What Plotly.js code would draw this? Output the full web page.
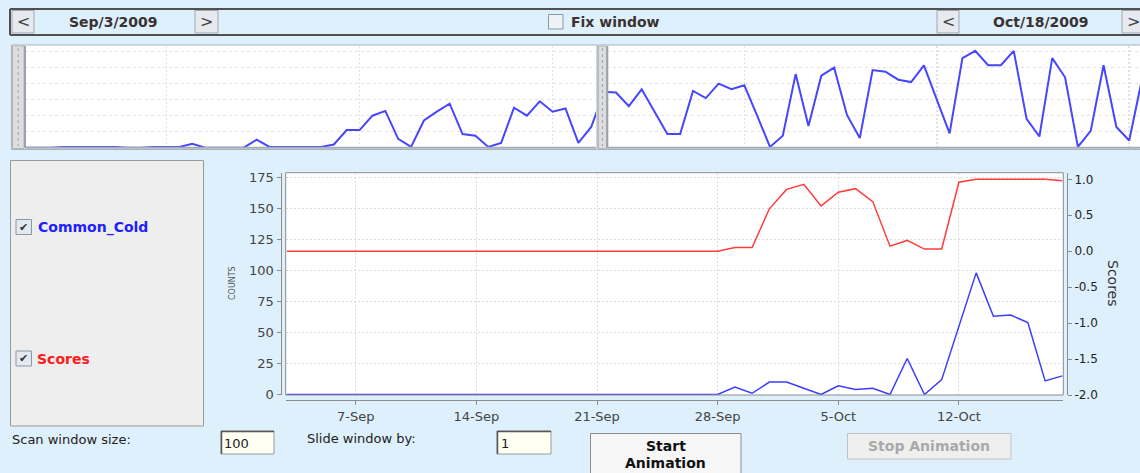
<!DOCTYPE html>
<html><head><meta charset="utf-8">
<script src="https://cdn.plot.ly/plotly-3.0.1.min.js"></script>
<style>html,body{margin:0;padding:0;background:#def0fc;} #chart{width:1140px;height:473px;}</style>
</head><body><div id="chart"></div>
<script>
// ---------- data ----------
const dates = [
 '2009-09-03','2009-09-04','2009-09-05','2009-09-06','2009-09-07','2009-09-08','2009-09-09','2009-09-10',
 '2009-09-11','2009-09-12','2009-09-13','2009-09-14','2009-09-15','2009-09-16','2009-09-17','2009-09-18',
 '2009-09-19','2009-09-20','2009-09-21','2009-09-22','2009-09-23','2009-09-24','2009-09-25','2009-09-26',
 '2009-09-27','2009-09-28','2009-09-29','2009-09-30','2009-10-01','2009-10-02','2009-10-03','2009-10-04',
 '2009-10-05','2009-10-06','2009-10-07','2009-10-08','2009-10-09','2009-10-10','2009-10-11','2009-10-12',
 '2009-10-13','2009-10-14','2009-10-15','2009-10-16','2009-10-17','2009-10-18'];
const commonColdCounts = [
 0,0,0,0,0,0,0,0,0,0,0,0,0,0,0,0,0,0,0,0,0,0,0,0,0,0,
 6,1,10,10,5,0,7,4,5,0,29,0,12,55,98,63,64,58,11,15];
const scores = [
 0,0,0,0,0,0,0,0,0,0,0,0,0,0,0,0,0,0,0,0,0,0,0,0,0,0,
 0.05,0.05,0.59,0.86,0.93,0.63,0.82,0.87,0.69,0.07,0.15,0.03,0.03,0.96,1.0,1.0,1.0,1.0,1.0,0.98];
const overviewCounts = [
 0,0,0,1,1,1,1,1,0,0,1,1,1,5,0,0,0,0,10,1,1,1,
 1,1,4,22,22,40,46,11,1,34,45,55,17,15,1,6,50,40,58,45,49,6,26,70,
 69,52,73,45,17,17,71,62,80,73,78,40,1,15,92,27,90,100,41,12,97,95,85,82,103,
 60,18,112,121,103,103,121,36,14,112,88,1,21,103,26,9,86];
const dateTickValues = ['2009-09-07','2009-09-14','2009-09-21','2009-09-28','2009-10-05','2009-10-12'];
const dateTickLabels = ['7-Sep','14-Sep','21-Sep','28-Sep','5-Oct','12-Oct'];
const countTickValues = [0,25,50,75,100,125,150,175];
const scoreTickValues = [-2,-1.5,-1,-0.5,0,0.5,1];
const scoreTickLabels = ['-2.0','-1.5','-1.0','-0.5','0.0','0.5','1.0'];
const seriesNames = ['Common_Cold','Scores'];
const startDateLabel = 'Sep/3/2009';
const endDateLabel = 'Oct/18/2009';

// ---------- helpers (pixel -> paper) ----------
const W = 1140, H = 473;
const fx = x => x / W;
const fy = y => 1 - y / H;
const FONT = 'DejaVu Sans';

function rect(x0, y0, x1, y1, fill, line, lw, layer) {
  return {type:'rect', xref:'paper', yref:'paper', x0:fx(x0), x1:fx(x1), y0:fy(y0), y1:fy(y1),
    fillcolor: fill || 'rgba(0,0,0,0)', line:{color: line || 'rgba(0,0,0,0)', width: lw === undefined ? 1 : lw},
    layer: layer || 'below'};
}
function line(x0, y0, x1, y1, color, w, dash, layer) {
  return {type:'line', xref:'paper', yref:'paper', x0:fx(x0), x1:fx(x1), y0:fy(y0), y1:fy(y1),
    line:{color, width:w, dash: dash || 'solid'}, layer: layer || 'above'};
}
function text(t, x, y, opts) {
  opts = opts || {};
  return {text:t, xref:'paper', yref:'paper', x:fx(x), y:fy(y), showarrow:false,
    xanchor: opts.xanchor || 'center', yanchor:'middle', textangle: opts.angle || 0,
    font:{family:FONT, size: opts.size || 14, color: opts.color || '#333', weight: opts.bold ? 'bold' : 'normal'}};
}

// ---------- traces ----------
const traces = [
  {x: dates, y: commonColdCounts, name: seriesNames[0], type:'scatter', mode:'lines',
   line:{color:'#3c3cff', width:1.5}, xaxis:'x', yaxis:'y', hoverinfo:'skip'},
  {x: dates, y: scores, name: seriesNames[1], type:'scatter', mode:'lines',
   line:{color:'#ff3c3c', width:1.5}, xaxis:'x', yaxis:'y2', hoverinfo:'skip'},
  {y: overviewCounts, type:'scatter', mode:'lines', line:{color:'#4646ff', width:2},
   xaxis:'x3', yaxis:'y3', hoverinfo:'skip'},
  {y: overviewCounts, type:'scatter', mode:'lines', line:{color:'#4646ff', width:2},
   xaxis:'x4', yaxis:'y4', hoverinfo:'skip'}
];

const ovAxisX = {showticklabels:false, ticks:'', showline:false, zeroline:false,
  showgrid:true, gridcolor:'#e2e2e2', griddash:'2px,2px', gridwidth:1.5, tick0:11, dtick:15, fixedrange:true};
const ovAxisY = {showticklabels:false, ticks:'', showline:false, zeroline:false,
  showgrid:true, gridcolor:'#e2e2e2', griddash:'3px,3px', gridwidth:1, range:[0,127.1], tick0:0, dtick:20, fixedrange:true};

const shapes = [
  // top navigation bar
  line(10, 9, 1140, 9, '#505050', 2),
  line(10, 35, 1140, 35, '#505050', 2),
  line(10, 9, 10, 35, '#505050', 2),
  rect(12, 10.5, 34, 33, '#e6eaef', '#9ea7b2', 1, 'above'),
  rect(195, 10.5, 218, 33, '#e6eaef', '#9ea7b2', 1, 'above'),
  rect(937, 10.5, 959, 33, '#e6eaef', '#9ea7b2', 1, 'above'),
  rect(1122, 10.5, 1145, 33, '#e6eaef', '#9ea7b2', 1, 'above'),
  rect(548.5, 14.5, 563, 29, '#eef1f5', '#8c98a6', 1, 'above'),
  // overview panels: frames and splitter handles
  rect(11.5, 45, 597, 149.5, '#ffffff', '#a9b1ba', 1, 'below'),
  rect(12.5, 46, 24, 148.5, '#dedede', '#b8b8b8', 1, 'above'),
  line(18.2, 48, 18.2, 146, '#a8a8a8', 1.2, 'dot'),
  line(25, 46, 25, 148, '#9aa3ad', 2),
  line(25, 147.7, 596, 147.7, '#a4acb6', 2),
  rect(598, 45, 1141, 149.5, '#ffffff', '#a9b1ba', 1, 'below'),
  rect(598.5, 46, 606.5, 148.5, '#dedede', '#b8b8b8', 1, 'above'),
  line(602.5, 48, 602.5, 146, '#a8a8a8', 1.2, 'dot'),
  line(607.3, 46, 607.3, 148, '#9aa3ad', 2),
  line(607.3, 147.7, 1140, 147.7, '#a4acb6', 2),
  // legend panel
  rect(10.5, 160.5, 203.5, 426, '#eeeeee', '#9a9a9a', 1, 'below'),
  rect(16, 219.5, 31.5, 234.5, '#e4e9ef', '#8a97a6', 1, 'above'),
  rect(16, 351, 31.5, 366, '#e4e9ef', '#8a97a6', 1, 'above'),
  // main plot border
  rect(285.7, 172.7, 1063.3, 395, null, '#8c8c8c', 1, 'above'),
  // bottom controls
  rect(221, 431, 274, 454, '#fffff2', '#9a9a9a', 1, 'below'),
  line(221.5, 431, 221.5, 454, '#555', 1.5),
  line(221, 431.5, 274, 431.5, '#555', 1.5),
  rect(497, 431, 551, 454, '#fffff2', '#9a9a9a', 1, 'below'),
  line(497.5, 431, 497.5, 454, '#555', 1.5),
  line(497, 431.5, 551, 431.5, '#555', 1.5),
  rect(590.5, 433.5, 741, 480, '#f6f6f6', '#8c8c8c', 1, 'below'),
  rect(847.5, 433.5, 1011, 459, '#efefef', '#c2c2c2', 1, 'below')
];

const annotations = [
  text('<', 23, 21.5, {size:16, color:'#444'}),
  text('>', 206.5, 21.5, {size:16, color:'#444'}),
  text('<', 948, 21.5, {size:16, color:'#444'}),
  text('>', 1133, 21.5, {size:16, color:'#444'}),
  text(startDateLabel, 113, 22, {bold:true, size:14, color:'#3a3232'}),
  text(endDateLabel, 1041, 22, {bold:true, size:14, color:'#3a3232'}),
  text('Fix window', 569, 22, {bold:true, size:14, color:'#3a3232', xanchor:'left'}),
  text('\u2714', 23.8, 227, {size:11, color:'#333'}),
  text(seriesNames[0], 36, 227, {bold:true, size:14, color:'#2020ff', xanchor:'left'}),
  text('\u2714', 23.8, 358.5, {size:11, color:'#333'}),
  text(seriesNames[1], 34.5, 358.5, {bold:true, size:14, color:'#ff1a1a', xanchor:'left'}),
  text('COUNTS', 232, 283, {size:8, color:'#555', angle:-90}),
  text('Scores', 1113, 283, {size:14, color:'#333', angle:90}),
  text('Scan window size:', 10, 439, {size:13, color:'#222', xanchor:'left'}),
  text('100', 222, 443, {size:13, color:'#222', xanchor:'left'}),
  text('Slide window by:', 305, 438, {size:13, color:'#222', xanchor:'left'}),
  text('1', 499, 443, {size:13, color:'#222', xanchor:'left'}),
  text('Start', 665.5, 446, {bold:true, size:14, color:'#111'}),
  text('Animation', 665.5, 463, {bold:true, size:14, color:'#111'}),
  text('Stop Animation', 929, 446, {bold:true, size:14, color:'#a9a9a9'})
];

const layout = {
  width: W, height: H, margin:{l:0, r:0, t:0, b:0},
  paper_bgcolor:'#def0fc', plot_bgcolor:'#ffffff', showlegend:false,
  font:{family:FONT},
  xaxis: {domain:[fx(285.7), fx(1063.3)], type:'date',
    range:['2009-09-02 22:30', '2009-10-18 01:20'],
    anchor:'free', position: fy(399.5),
    showline:true, linecolor:'#8c8c8c', linewidth:1.5,
    ticks:'outside', ticklen:4, tickcolor:'#8c8c8c',
    tickvals: dateTickValues, ticktext: dateTickLabels,
    tickfont:{family:FONT, size:13, color:'#444'},
    showgrid:true, gridcolor:'#dcdcdc', griddash:'2px,2px', gridwidth:1, zeroline:false, fixedrange:true},
  yaxis: {domain:[fy(395), fy(172.7)], range:[-0.4, 178.7],
    anchor:'free', position: fx(280.5),
    showline:true, linecolor:'#8c8c8c', linewidth:1.5,
    ticks:'outside', ticklen:4, tickcolor:'#8c8c8c',
    tickvals: countTickValues,
    tickfont:{family:FONT, size:13, color:'#444'},
    showgrid:true, gridcolor:'#dcdcdc', griddash:'2px,2px', gridwidth:1, zeroline:false, fixedrange:true},
  yaxis2: {overlaying:'y', side:'right', anchor:'free', position: fx(1066.5),
    range:[-2, 1.092],
    showline:true, linecolor:'#8c8c8c', linewidth:1.5,
    ticks:'outside', ticklen:4, tickcolor:'#8c8c8c',
    tickvals: scoreTickValues, ticktext: scoreTickLabels,
    tickfont:{family:FONT, size:12, color:'#222'},
    showgrid:false, zeroline:false, fixedrange:true},
  xaxis3: Object.assign({}, ovAxisX, {domain:[fx(25), fx(596)], range:[0, 44.37], anchor:'y3'}),
  yaxis3: Object.assign({}, ovAxisY, {domain:[fy(147.7), fy(46)], anchor:'x3'}),
  xaxis4: Object.assign({}, ovAxisX, {domain:[fx(607.3), 1], range:[45.32, 86.84], anchor:'y4'}),
  yaxis4: Object.assign({}, ovAxisY, {domain:[fy(147.7), fy(46)], anchor:'x4'}),
  shapes, annotations
};

Plotly.newPlot('chart', traces, layout, {displayModeBar:false, staticPlot:true});
</script>
</body></html>
